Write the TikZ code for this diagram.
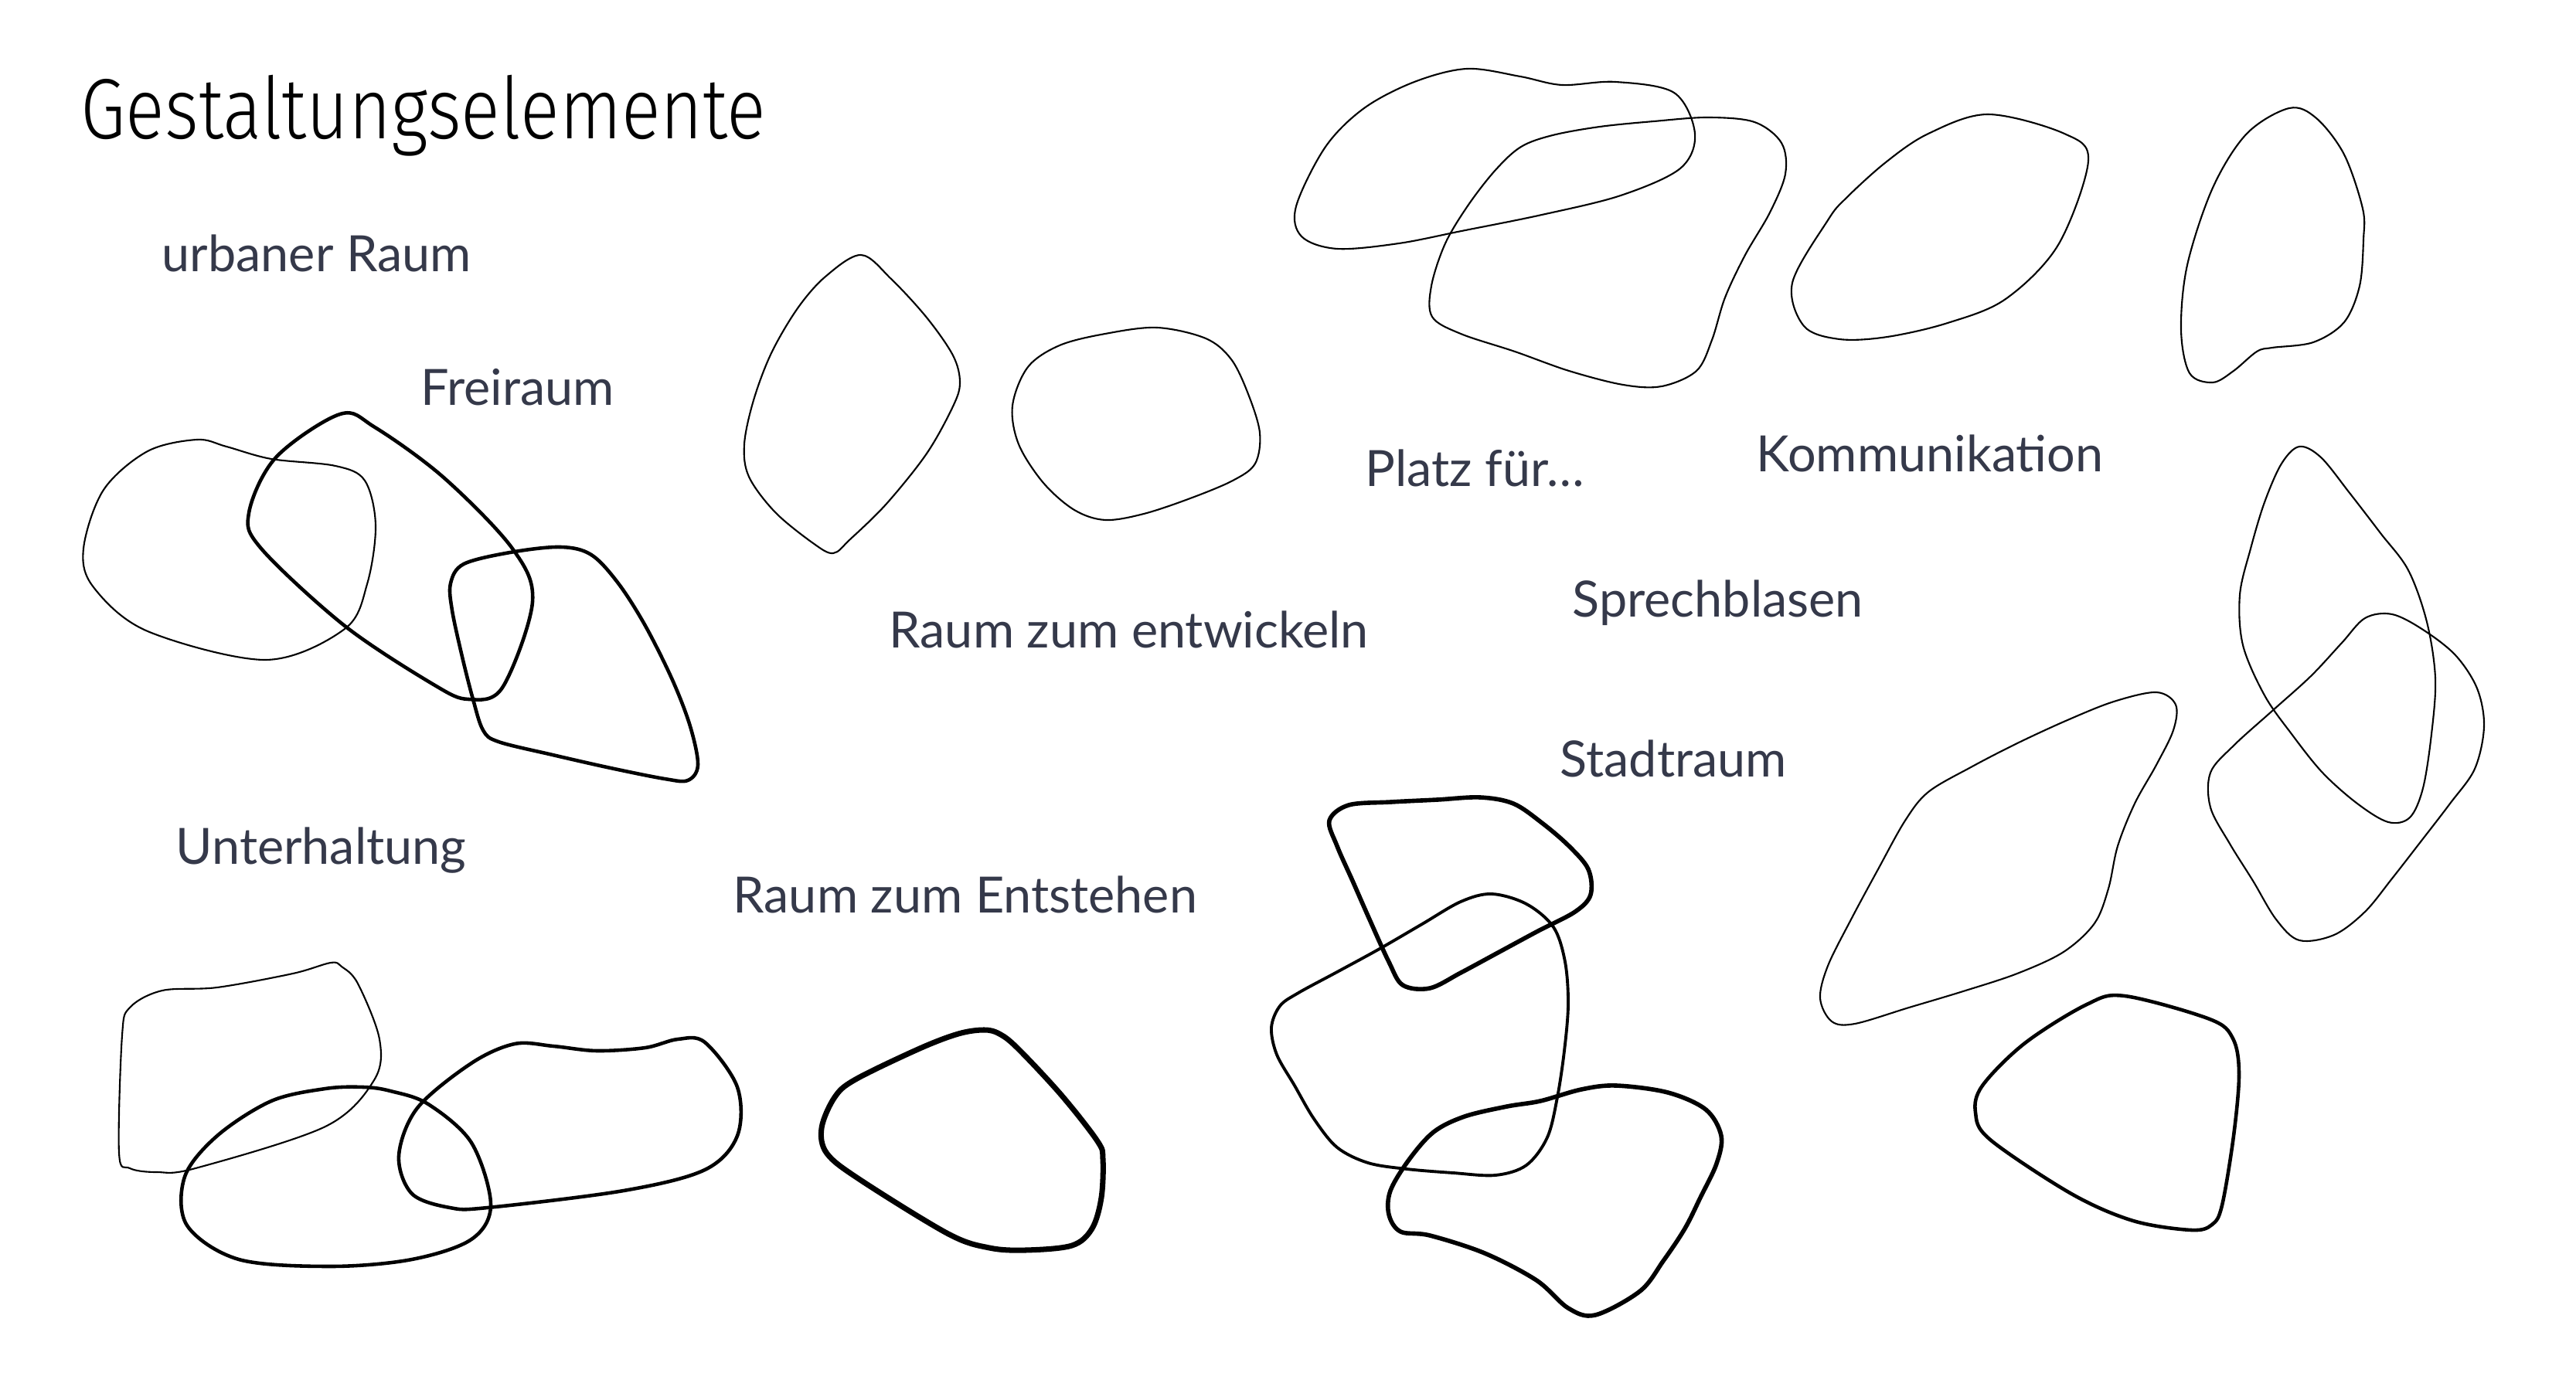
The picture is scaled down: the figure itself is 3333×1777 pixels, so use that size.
\documentclass[tikz,border=0pt]{standalone}
\usepackage{fontspec}
\setmainfont{Lato}
\newfontfamily\labelfont{Lato}
\newfontfamily\titlefont{Fira Sans Light}[FakeStretch=0.85]
\definecolor{labelcol}{RGB}{53,57,74}
\tikzset{
  lbl/.style={anchor=base west, inner sep=0pt, text=labelcol, font=\labelfont\fontsize{18.4}{20}\selectfont},
  ttl/.style={anchor=base west, inner sep=0pt, text=black, font=\titlefont\fontsize{31.5}{34}\selectfont},
  thinblob/.style={draw=black, line width=0.6pt, line join=round},
  medblob/.style={draw=black, line width=1.1pt, line join=round},
  thickblob/.style={draw=black, line width=1.3pt, line join=round},
  boldblob/.style={draw=black, line width=1.6pt, line join=round},
  heavyblob/.style={draw=black, line width=2.0pt, line join=round},
}
\begin{document}
\begin{tikzpicture}[x=0.01cm,y=-0.01cm]
\path[use as bounding box, fill=white] (0,0) rectangle (3333,1777);

% ---- texts ----
\node[ttl] (title) at (104,180) {Gestaltungselemente};
\node[lbl] (urban) at (209,352) {urbaner Raum};
\node[lbl] (frei) at (544,525) {Freiraum};
\node[lbl] (unter) at (227,1119) {Unterhaltung};
\node[lbl] (entst) at (948,1182) {Raum zum Entstehen};
\node[lbl] (entw) at (1150,839) {Raum zum entwickeln};
\node[lbl] (platz) at (1766,630) {Platz für…};
\node[lbl] (komm) at (2272,611) {Kommunikation};
\node[lbl] (sprech) at (2034,799) {Sprechblasen};
\node[lbl] (stadt) at (2018,1006) {Stadtraum};

% ---- group A ----
\draw[thinblob] plot[smooth cycle, tension=0.55] coordinates {
 (255,569) (293,578) (351,594) (434,603) (472,622) (486,680) (475,756) (446,814)
 (344,854) (191,817) (121,760) (108,710) (134,634) (191,584)};
\draw[thickblob] plot[smooth cycle, tension=0.55] coordinates {
 (440,536) (485,553) (574,618) (663,710) (689,779) (650,890) (606,905) (561,886)
 (446,810) (338,710) (322,664) (357,592)};
\draw[thickblob] plot[smooth cycle, tension=0.55] coordinates {
 (600,730) (660,715) (725,708) (765,718) (800,755) (835,810) (870,880) (893,940)
 (903,990) (890,1010) (860,1008) (790,994) (715,977) (645,960) (625,945) (612,905)
 (598,850) (585,790) (583,755)};

% ---- group B ----
\draw[thinblob] plot[smooth cycle, tension=0.55] coordinates {
 (1114,330) (1153,361) (1199,411) (1233,460) (1242,495) (1233,526) (1199,587) (1147,652)
 (1100,698) (1078,716) (1052,703) (1003,663) (969,617) (963,575) (975,518) (998,457)
 (1032,399) (1068,358)};
\draw[thinblob] plot[smooth cycle, tension=0.55] coordinates {
 (1371,447) (1430,432) (1497,424) (1560,438) (1593,465) (1615,510) (1630,560) (1624,600)
 (1595,622) (1540,645) (1480,665) (1430,673) (1390,660) (1350,625) (1318,575) (1310,525) (1330,475)};

% ---- group C ----
\draw[thinblob] plot[smooth cycle, tension=0.55] coordinates {
 (1898,89) (1967,99) (2021,110) (2090,106) (2166,120) (2193,173) (2174,218) (2097,253)
 (1995,278) (1891,299) (1810,315) (1730,322) (1684,306) (1677,267) (1715,190) (1765,140) (1830,106)};
\draw[thinblob] plot[smooth cycle, tension=0.55] coordinates {
 (2009,175) (2070,164) (2140,157) (2210,152) (2270,158) (2305,185) (2310,225) (2290,275)
 (2258,330) (2232,385) (2215,440) (2195,480) (2150,500) (2100,498) (2030,480) (1960,455)
 (1890,432) (1853,410) (1852,370) (1870,315) (1900,265) (1935,220) (1968,190)};
\draw[thinblob] plot[smooth cycle, tension=0.55] coordinates {
 (2572,148) (2671,173) (2702,208) (2663,317) (2595,387) (2520,418) (2442,436) (2380,439)
 (2334,422) (2319,366) (2365,285) (2388,257) (2440,210) (2495,173)};
\draw[thinblob] plot[smooth cycle, tension=0.55] coordinates {
 (2962,140) (2997,153) (3033,200) (3057,270) (3058,310) (3053,370) (3033,417) (2993,443)
 (2940,450) (2920,455) (2890,480) (2863,495) (2833,483) (2822,427) (2830,343) (2863,243) (2907,173)};

% ---- group D (right) ----
\draw[thinblob] plot[smooth cycle, tension=0.55] coordinates {
 (2790,896) (2815,912) (2812,945) (2790,990) (2762,1040) (2740,1095) (2728,1150) (2710,1195)
 (2670,1232) (2610,1260) (2540,1283) (2470,1304) (2400,1325) (2370,1322) (2355,1292) (2365,1250)
 (2395,1190) (2430,1125) (2465,1062) (2495,1025) (2550,993) (2610,962) (2675,932) (2735,908)};
\draw[thinblob] plot[smooth cycle, tension=0.55] coordinates {
 (2975,578) (3003,592) (3040,638) (3080,690) (3116,738) (3140,805) (3151,878) (3146,950)
 (3135,1020) (3118,1058) (3090,1064) (3050,1040) (3005,1000) (2965,950) (2930,900) (2902,835)
 (2898,770) (2912,710) (2930,650) (2952,600)};
\draw[thinblob] plot[smooth cycle, tension=0.55] coordinates {
 (3060,800) (3095,795) (3135,815) (3177,848) (3205,891) (3214,940) (3202,995) (3170,1040)
 (3130,1092) (3095,1137) (3060,1180) (3020,1210) (2975,1217) (2945,1190) (2915,1140) (2885,1092)
 (2860,1045) (2860,1000) (2890,965) (2940,920) (2990,875) (3030,832)};
\draw[thickblob] plot[smooth cycle, tension=0.55] coordinates {
 (2749,1289) (2859,1319) (2889,1344) (2897,1390) (2890,1470) (2875,1560) (2862,1585) (2835,1592)
 (2760,1580) (2680,1545) (2575,1475) (2556,1440) (2565,1405) (2620,1350) (2700,1300)};

% ---- group E (bottom left) ----
\draw[thinblob] plot[smooth cycle, tension=0.55] coordinates {
 (428,1246) (379,1260) (281,1278) (210,1282) (168,1304) (158,1340) (154,1492) (168,1512)
 (203,1517) (253,1512) (421,1458) (484,1398) (491,1345) (463,1273) (442,1251)};
\draw[thickblob] plot[smooth cycle, tension=0.55] coordinates {
 (470,1407) (505,1412) (554,1429) (610,1479) (635,1559) (610,1604) (533,1630) (428,1639)
 (309,1630) (242,1586) (239,1523) (281,1470) (351,1425) (421,1409)};
\draw[thickblob] plot[smooth cycle, tension=0.55] coordinates {
 (716,1354) (772,1360) (835,1356) (877,1345) (912,1349) (954,1407) (954,1470) (912,1514)
 (807,1541) (631,1563) (582,1563) (533,1545) (516,1496) (540,1434) (610,1376) (666,1351)};

% ---- group G ----
\draw[heavyblob] plot[smooth cycle, tension=0.55] coordinates {
 (1273,1333) (1293,1338) (1317,1357) (1373,1417) (1420,1477) (1427,1500) (1425,1550) (1413,1590)
 (1387,1612) (1327,1618) (1280,1615) (1227,1597) (1113,1527) (1070,1493) (1063,1460) (1080,1420)
 (1107,1397) (1190,1357) (1240,1338)};

% ---- group F (Stadtraum) ----
\draw[boldblob] plot[smooth cycle, tension=0.55] coordinates {
 (1720,1062) (1745,1042) (1800,1038) (1860,1035) (1915,1032) (1958,1040) (1995,1065) (2030,1095)
 (2055,1125) (2058,1158) (2038,1180) (1990,1205) (1940,1232) (1890,1259) (1850,1279) (1815,1275)
 (1797,1245) (1772,1190) (1750,1140) (1730,1095)};
\draw[medblob] plot[smooth cycle, tension=0.55] coordinates {
 (1680,1285) (1730,1258) (1785,1228) (1840,1196) (1890,1167) (1930,1157) (1975,1170) (2010,1200)
 (2025,1245) (2029,1300) (2024,1360) (2015,1420) (2002,1472) (1975,1508) (1935,1521) (1880,1518)
 (1820,1513) (1770,1505) (1730,1485) (1700,1448) (1675,1405) (1652,1365) (1645,1330) (1656,1302)};
\draw[boldblob] plot[smooth cycle, tension=0.55] coordinates {
 (1855,1465) (1895,1445) (1950,1432) (1993,1425) (2046,1410) (2091,1405) (2158,1414) (2207,1436)
 (2227,1470) (2221,1506) (2200,1550) (2180,1590) (2152,1632) (2122,1671) (2064,1702) (2029,1693)
 (1988,1657) (1921,1622) (1850,1599) (1812,1594) (1797,1572) (1799,1541) (1823,1501)};
\end{tikzpicture}
\end{document}
